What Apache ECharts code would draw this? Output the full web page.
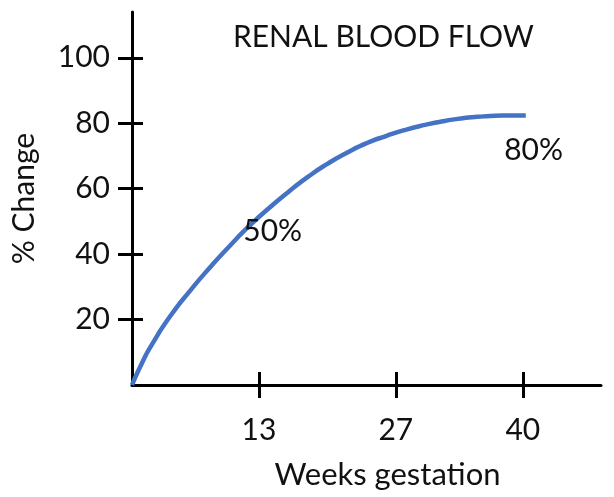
<!DOCTYPE html>
<html>
<head>
<meta charset="utf-8">
<script src="https://cdn.jsdelivr.net/npm/echarts@6/dist/echarts.min.js"></script>
<style>html,body{margin:0;padding:0;background:#fff;}#c{width:614px;height:497px;}</style>
</head>
<body>
<div id="c"></div>
<script>
const titleText = 'RENAL BLOOD FLOW';
const xName = 'Weeks gestation';
const yName = '% Change';
const weeks = [0, 1, 2, 4, 6, 8, 10, 12, 14, 16, 18, 20, 22, 24, 26, 28, 30, 32, 34, 36, 38, 40.3];
const change = [0, 6.6, 12.2, 21.4, 29, 36, 42.5, 48.6, 54, 59, 63.6, 67.6, 71, 73.9, 76.1, 78, 79.5, 80.7, 81.6, 82.1, 82.35, 82.4];
const xTicks = [13, 27, 40];
const yTicks = [20, 40, 60, 80, 100];
const noteText = ['50%', '80%'];
const noteWeeks = [14.4, 41.1];
const noteValues = [47, 71.8];

const FONT = 'Lato';
const chart = echarts.init(document.getElementById('c'), null, {renderer: 'canvas'});
const lineStyle = {color: '#000', width: 3};
chart.setOption({
  animation: false,
  backgroundColor: '#fff',
  title: {
    text: titleText, left: 228, top: 17,
    textStyle: {fontFamily: FONT, fontSize: 30, fontWeight: 'normal', color: '#111'}
  },
  grid: {left: 132, right: 13, top: 12, bottom: 112},
  xAxis: [{
    type: 'value', min: 0, max: 48, position: 'bottom',
    axisLine: {show: true, lineStyle: lineStyle},
    axisTick: {show: true, inside: false, length: 13, lineStyle: lineStyle, customValues: xTicks},
    axisLabel: {show: true, customValues: xTicks, margin: 30, fontFamily: FONT, fontSize: 30, color: '#111'},
    splitLine: {show: false},
    name: xName, nameLocation: 'middle', nameGap: 74,
    nameTextStyle: {fontFamily: FONT, fontSize: 31, color: '#111', padding: [0, 0, 0, 42]}
  }, {
    type: 'value', min: 0, max: 48, position: 'bottom',
    axisLine: {show: false},
    axisTick: {show: true, inside: true, length: 13, lineStyle: lineStyle, customValues: xTicks},
    axisLabel: {show: false}, splitLine: {show: false}
  }],
  yAxis: [{
    type: 'value', min: 0, max: 114, position: 'left',
    axisLine: {show: true, lineStyle: lineStyle},
    axisTick: {show: true, inside: false, length: 14, lineStyle: lineStyle, customValues: yTicks},
    axisLabel: {show: true, customValues: yTicks, margin: 22, fontFamily: FONT, fontSize: 30, color: '#111'},
    splitLine: {show: false},
    name: yName, nameLocation: 'middle', nameGap: 93, nameRotate: 90,
    nameTextStyle: {fontFamily: FONT, fontSize: 30, color: '#111'}
  }, {
    type: 'value', min: 0, max: 114, position: 'left',
    axisLine: {show: false},
    axisTick: {show: true, inside: true, length: 11, lineStyle: lineStyle, customValues: yTicks},
    axisLabel: {show: false}, splitLine: {show: false}
  }],
  series: [{
    type: 'line',
    data: weeks.map((w, i) => [w, change[i]]),
    smooth: 0.6,
    symbol: 'none',
    lineStyle: {color: '#4472C4', width: 4.5, cap: 'butt'},
    z: 3
  }, {
    type: 'scatter',
    data: noteWeeks.map((w, i) => ({value: [w, noteValues[i]], label: {formatter: noteText[i]}})),
    symbolSize: 0,
    itemStyle: {opacity: 1},
    label: {show: true, position: 'inside', fontFamily: FONT, fontSize: 30, color: '#111', opacity: 1, textBorderWidth: 0},
    silent: true, z: 4
  }]
});
</script>
</body>
</html>
